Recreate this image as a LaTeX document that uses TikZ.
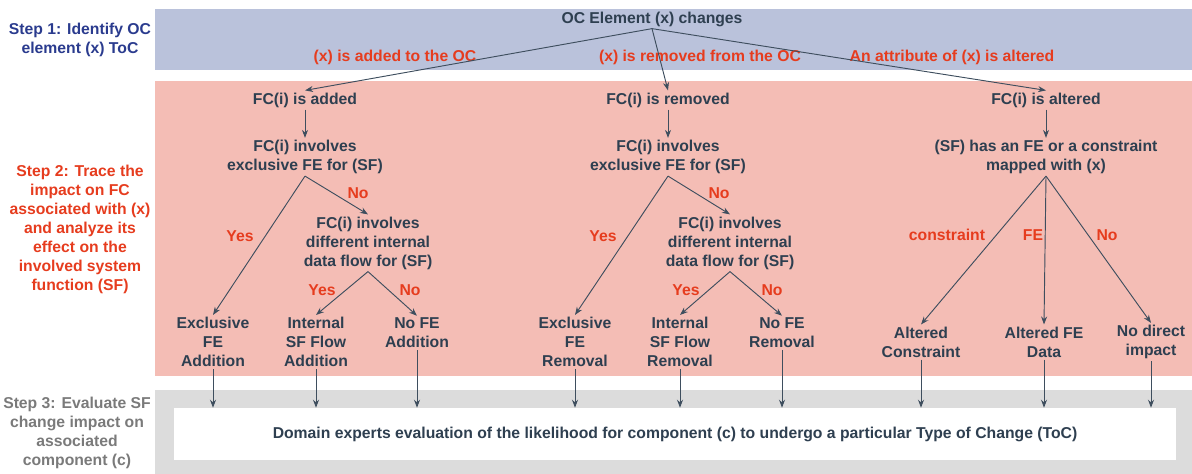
\documentclass[tikz,border=0pt]{standalone}
\usepackage{fontspec}
\setmainfont{Liberation Sans}
\usepackage{tikz}
\usetikzlibrary{positioning,arrows.meta}
\definecolor{bandblue}{HTML}{BAC2DB}
\definecolor{bandred}{HTML}{F4BDB5}
\definecolor{bandgrey}{HTML}{DCDCDC}
\definecolor{textdark}{HTML}{2E3F50}
\definecolor{linedark}{HTML}{3E4E5E}
\definecolor{labelred}{HTML}{E63C1E}
\definecolor{stepblue}{HTML}{2A3B8E}
\definecolor{stepgrey}{HTML}{7A7A7A}
\tikzset {
    style N/.style={
        text=textdark,
        align=center,
        inner sep=1.5pt,
    },
    style L/.style={
        text=labelred,
        inner sep=1pt,
    },
    style S/.style={
        align=center,
        inner sep=1pt,
    },
    style E/.style={
        draw=linedark,
        line width=0.7pt,
        -{Stealth[length=6pt,width=4.5pt]},
    },
}

\begin{document}
\begin{tikzpicture}
[x=0.75pt, y=-0.75pt, font=\bfseries\fontsize{11.8}{14.25}\selectfont]
\useasboundingbox (0,0) rectangle (1192,474);

% bands
\fill[bandblue] (155,9) rectangle (1192,70);
\fill[bandred] (155,81) rectangle (1192,376);
\fill[bandgrey] (155,390) rectangle (1192,474);

\node[style S, text=stepblue] at (80,40) (step1) {Step 1: Identify OC\\element (x) ToC};
\node[style S, text=labelred] at (80,229) (step2) {Step 2: Trace the\\impact on FC\\associated with (x)\\and analyze its\\effect on the\\involved system\\function (SF)};
\node[style S, text=stepgrey] at (77,433) (step3) {Step 3: Evaluate SF\\change impact on\\associated\\component (c)};

\node[style N] at (652,19) (root) {OC Element (x) changes};

\node[style L] at (395,57) (addL) {(x) is added to the OC};
\node[style L] at (700,57) (remL) {(x) is removed from the OC};
\node[style L] at (952,57) (altL) {An attribute of (x) is altered};

\node[style N] at (305,100) (added) {FC(i) is added};
\node[style N] at (668,100) (removed) {FC(i) is removed};
\node[style N] at (1046,100) (altered) {FC(i) is altered};

\node[style N] at (305,157) (exclA) {FC(i) involves\\exclusive FE for (SF)};
\node[style N] at (668,157) (exclR) {FC(i) involves\\exclusive FE for (SF)};
\node[style N] at (1046,157) (mapped) {(SF) has an FE or a constraint\\mapped with (x)};

\node[style N] at (368,243) (flowA) {FC(i) involves\\different internal\\data flow for (SF)};
\node[style N] at (730,243) (flowR) {FC(i) involves\\different internal\\data flow for (SF)};

\node[style N] at (213,342) (feA) {Exclusive\\FE\\Addition};
\node[style N] at (316,342) (sfA) {Internal\\SF Flow\\Addition};
\node[style N] at (417,333) (nofeA) {No FE\\Addition};
\node[style N] at (575,342) (feR) {Exclusive\\FE\\Removal};
\node[style N] at (680,342) (sfR) {Internal\\SF Flow\\Removal};
\node[style N] at (782,333) (nofeR) {No FE\\Removal};
\node[style N] at (921,342) (cons) {Altered\\Constraint};
\node[style N] at (1044,342) (data) {Altered FE\\Data};
\node[style N] at (1151,342) (none) {No direct\\impact};

\node[style L] at (240,236) (yesA) {Yes};
\node[style L] at (358,193) (noA) {No};
\node[style L] at (322,290) (yesA2) {Yes};
\node[style L] at (410,290) (noA2) {No};
\node[style L] at (603,236) (yesR) {Yes};
\node[style L] at (719,193) (noR) {No};
\node[style L] at (686,290) (yesR2) {Yes};
\node[style L] at (772,290) (noR2) {No};
\node[style L] at (947,235) (consL) {constraint};
\node[style L] at (1033,235) (feL) {FE};
\node[style L] at (1107,235) (noL) {No};

\node[style N, fill=white, minimum width=751pt, minimum height=39pt] at (675,434) (eval) {Domain experts evaluation of the likelihood for component (c) to undergo a particular Type of Change (ToC)};

\draw[style E] (root.south) -- (added.north);
\draw[style E] (root.south) -- (removed.north);
\draw[style E] (root.south) -- (altered.north);
\draw[style E] (added) -- (exclA);
\draw[style E] (removed) -- (exclR);
\draw[style E] (altered) -- (mapped);
\draw[style E] (exclA.south) -- (feA.north);
\draw[style E] (exclA.south) -- (flowA.north);
\draw[style E] (flowA.south) -- (sfA.north);
\draw[style E] (flowA.south) -- (nofeA.north);
\draw[style E] (exclR.south) -- (feR.north);
\draw[style E] (exclR.south) -- (flowR.north);
\draw[style E] (flowR.south) -- (sfR.north);
\draw[style E] (flowR.south) -- (nofeR.north);
\draw[style E] (mapped.south) -- (cons.north);
\draw[style E] (mapped.south) -- (data.north);
\draw[style E] (mapped.south) -- (none.north);
\foreach \n in {feA,sfA,nofeA,feR,sfR,nofeR,cons,data,none}
    \draw[style E] (\n.south) -- (\n.south |- eval.north);
\end{tikzpicture}
\end{document}
